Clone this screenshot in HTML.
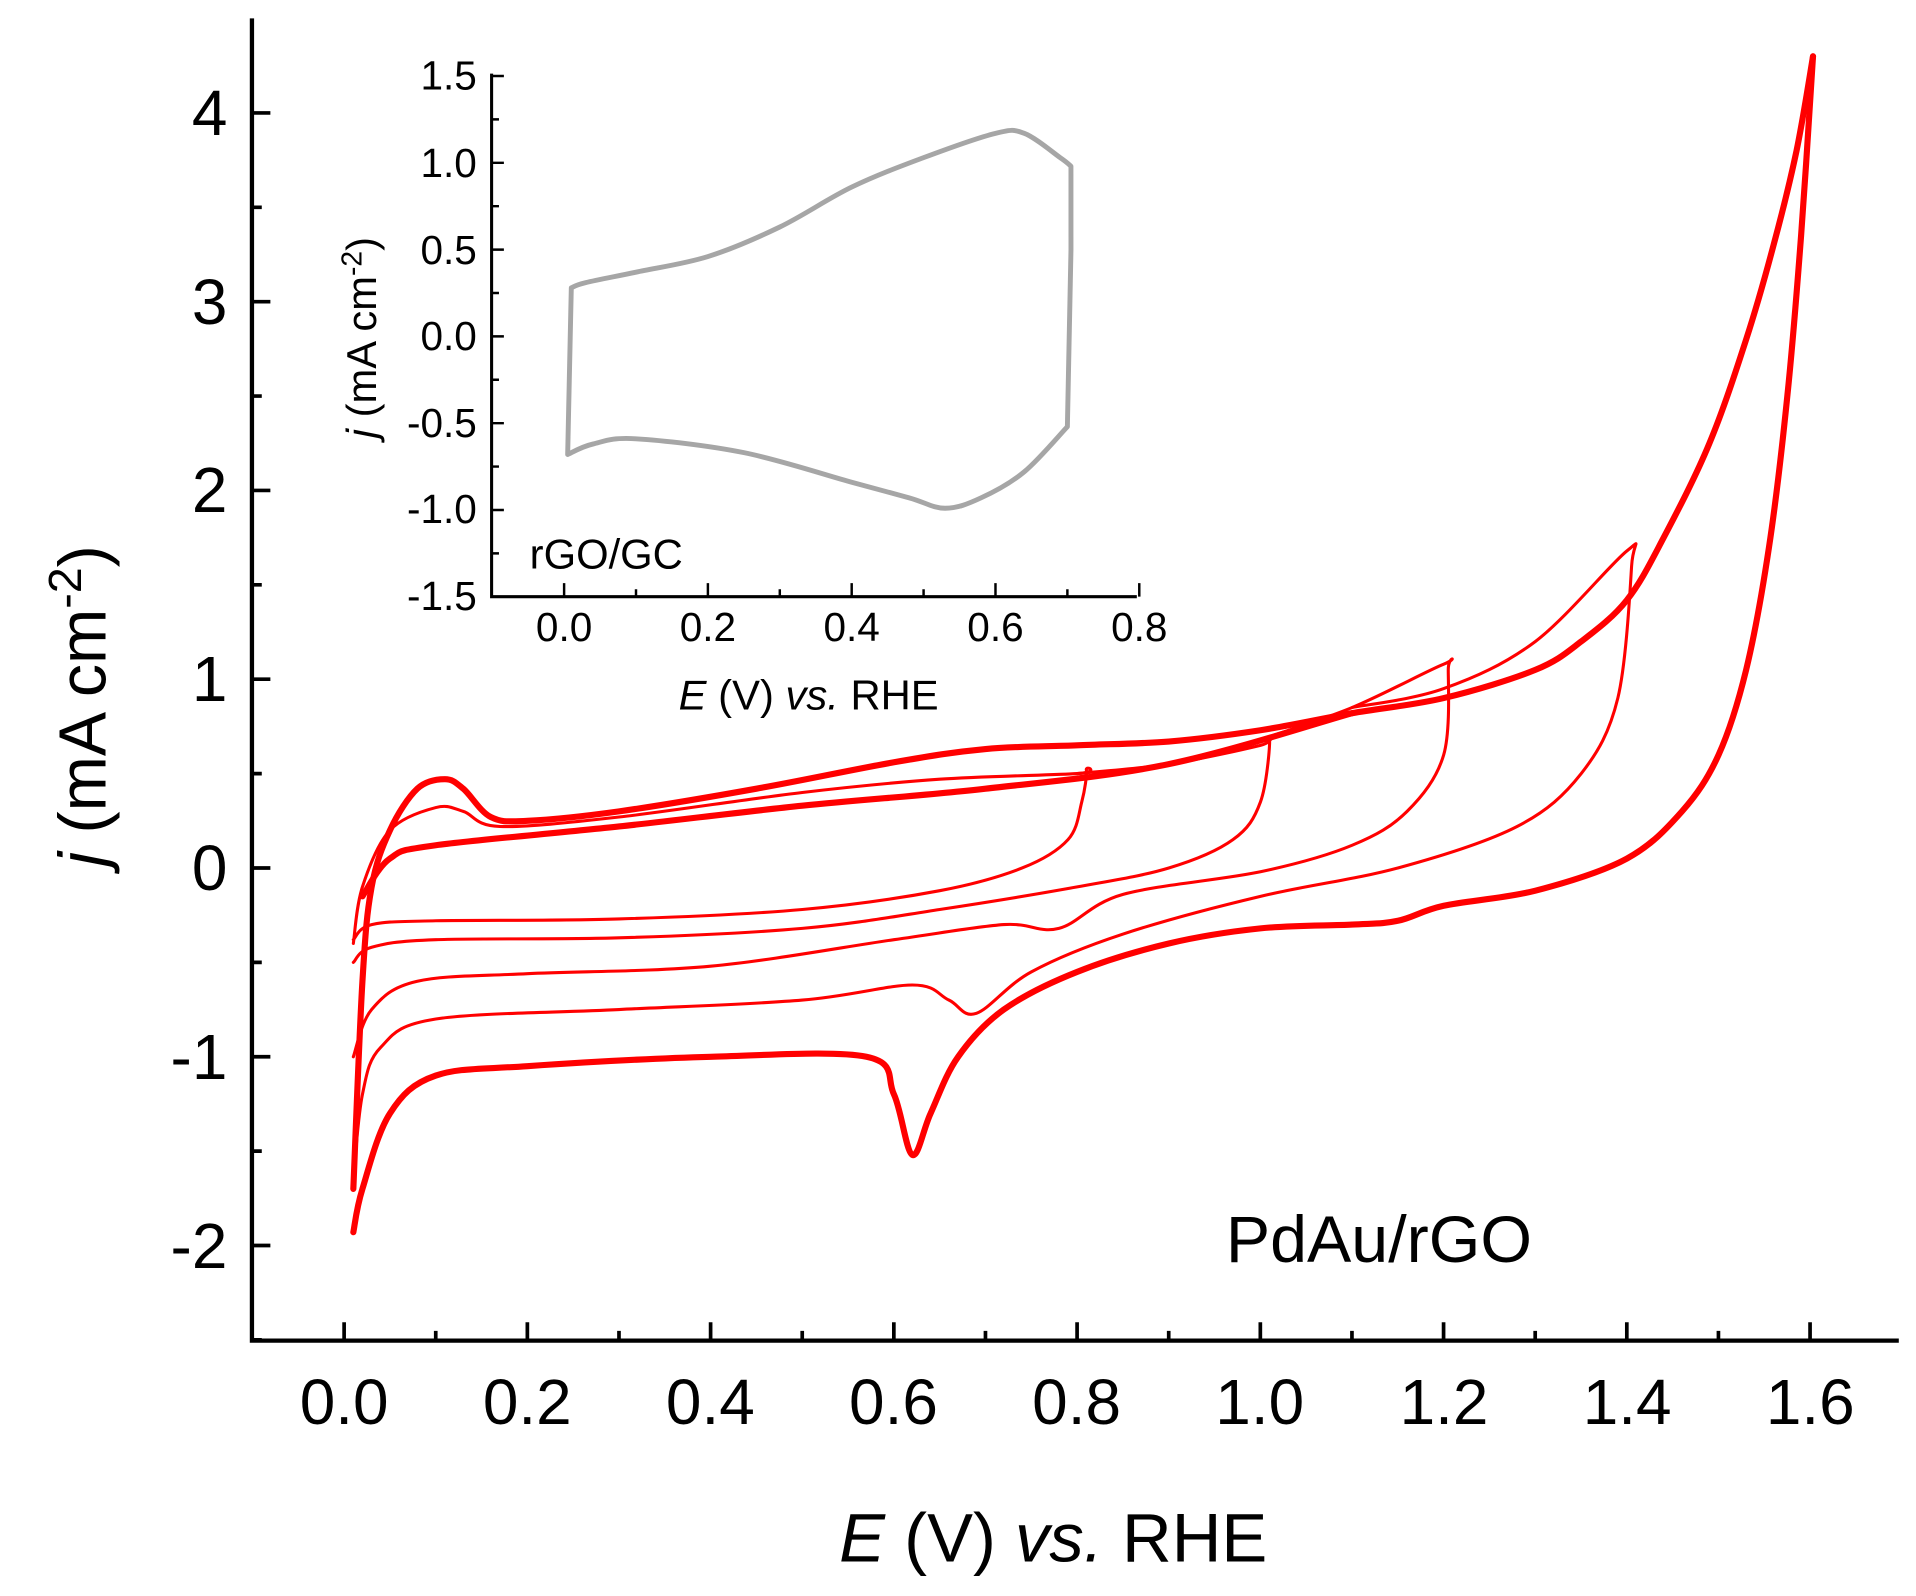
<!DOCTYPE html>
<html><head><meta charset="utf-8"><style>
html,body{margin:0;padding:0;background:#fff;}
svg{display:block;}
text{font-family:"Liberation Sans",Arial,sans-serif;fill:#000;}
</style></head><body>
<svg id="s" width="1916" height="1596" viewBox="0 0 1559 1300" preserveAspectRatio="none" xmlns="http://www.w3.org/2000/svg">
<rect width="1559" height="1300" fill="#fff"/>
<g id="axes" stroke="#000" stroke-width="3.5" fill="none">
<path d="M205,15 V1092 H1545"/>
<path d="M400,60 V486 H925" stroke-width="2.5"/>
</g>
<g id="ticks" stroke="#000" fill="none"></g>
<g id="curves" fill="none" stroke-linejoin="round" stroke-linecap="round"></g>
<g font-size="52" text-anchor="middle">
<text x="280" y="1160">0.0</text><text x="429" y="1160">0.2</text><text x="578" y="1160">0.4</text><text x="727" y="1160">0.6</text><text x="876" y="1160">0.8</text><text x="1025" y="1160">1.0</text><text x="1175" y="1160">1.2</text><text x="1324" y="1160">1.4</text><text x="1473" y="1160">1.6</text>
</g>
<g font-size="52" text-anchor="end">
<text x="185" y="110">4</text><text x="185" y="264">3</text><text x="185" y="417">2</text><text x="185" y="571">1</text><text x="185" y="725">0</text><text x="185" y="879">-1</text><text x="185" y="1033">-2</text>
</g>
<text x="857" y="1272" font-size="56" text-anchor="middle"><tspan font-style="italic">E</tspan> (V) <tspan font-style="italic">vs.</tspan> RHE</text>
<text transform="translate(86,575) rotate(-90)" font-size="54" text-anchor="middle"><tspan font-style="italic">j</tspan> (mA cm<tspan dy="-20" font-size="38">-2</tspan><tspan dy="20">)</tspan></text>
<text x="1122" y="1028" font-size="54" text-anchor="middle">PdAu/rGO</text>
<g font-size="33" text-anchor="end">
<text x="388" y="73">1.5</text><text x="388" y="144">1.0</text><text x="388" y="215">0.5</text><text x="388" y="285">0.0</text><text x="388" y="356">-0.5</text><text x="388" y="426">-1.0</text><text x="388" y="497">-1.5</text>
</g>
<g font-size="33" text-anchor="middle">
<text x="459" y="522">0.0</text><text x="576" y="522">0.2</text><text x="693" y="522">0.4</text><text x="810" y="522">0.6</text><text x="927" y="522">0.8</text>
</g>
<text x="658" y="578" font-size="34" text-anchor="middle"><tspan font-style="italic">E</tspan> (V) <tspan font-style="italic">vs.</tspan> RHE</text>
<text transform="translate(306,275) rotate(-90)" font-size="34" text-anchor="middle"><tspan font-style="italic">j</tspan> (mA cm<tspan dy="-12" font-size="23">-2</tspan><tspan dy="12">)</tspan></text>
<text x="431" y="463" font-size="34">rGO/GC</text>
</svg>
<script>
(function(){
var NS="http://www.w3.org/2000/svg";
function el(p,n,a){var e=document.createElementNS(NS,n);for(var k in a)e.setAttribute(k,a[k]);p.appendChild(e);return e;}
var T=document.getElementById('ticks');
var d="";
for(var i=0;i<=16;i++){var x=280+i*74.55;d+="M"+x+",1092v"+(i%2?-8:-15);}
for(var j=-2.5;j<=4.3;j+=0.5){var y=707-j*153.75;var maj=Math.abs(j-Math.round(j))<0.01;d+="M205,"+y+"h"+(maj?15:8);}
el(T,'path',{d:d,'stroke-width':3});
var d2="";
for(var i=0;i<=8;i++){var x=459+i*58.5;d2+="M"+x+",486v"+(i%2?-6:-11);}
for(var j=-1.5;j<=1.5001;j+=0.25){var y=274-j*141.4;var maj=Math.abs(j*2-Math.round(j*2))<0.01;d2+="M400,"+y+"h"+(maj?10:6);}
el(T,'path',{d:d2,'stroke-width':2});
function smooth(pts){var s="M"+pts[0][0].toFixed(1)+","+pts[0][1].toFixed(1);
for(var i=0;i<pts.length-1;i++){var p0=pts[i-1]||pts[i],p1=pts[i],p2=pts[i+1],p3=pts[i+2]||p2;
var c1=[p1[0]+(p2[0]-p0[0])/6,p1[1]+(p2[1]-p0[1])/6],c2=[p2[0]-(p3[0]-p1[0])/6,p2[1]-(p3[1]-p1[1])/6];
s+="C"+c1[0].toFixed(1)+","+c1[1].toFixed(1)+" "+c2[0].toFixed(1)+","+c2[1].toFixed(1)+" "+p2[0].toFixed(1)+","+p2[1].toFixed(1);}return s;}
function M(a){return a.map(function(p){return [280+p[0]*745.6,707-p[1]*153.75];});}
function I(a){return a.map(function(p){return [459+p[0]*585,274-p[1]*141.4];});}
var C=document.getElementById('curves');
function red(a,w){el(C,'path',{d:smooth(M(a)),stroke:'#ff0000','stroke-width':w});}
red([[0.01,-1.93],[0.02,-1.7],[0.05,-1.3],[0.1,-1.1],[0.2,-1.05],[0.4,-1.0],[0.57,-1.0],[0.6,-1.2],[0.62,-1.52],[0.64,-1.3],[0.67,-1.0],[0.72,-0.75],[0.8,-0.55],[0.9,-0.4],[1.0,-0.32],[1.1,-0.3],[1.15,-0.28],[1.2,-0.2],[1.3,-0.12],[1.4,0.05],[1.46,0.3],[1.5,0.6],[1.53,1.05],[1.555,1.7],[1.575,2.5],[1.59,3.35],[1.603,4.3]],5);
red([[1.603,4.3],[1.585,3.8],[1.56,3.3],[1.53,2.8],[1.49,2.25],[1.44,1.75],[1.40,1.42],[1.35,1.2],[1.3,1.05],[1.2,0.9],[1.1,0.82],[1.0,0.73],[0.9,0.67],[0.8,0.65],[0.7,0.63],[0.6,0.56],[0.45,0.42],[0.3,0.3],[0.2,0.25],[0.16,0.27],[0.13,0.42],[0.11,0.47],[0.08,0.42],[0.05,0.2],[0.03,-0.1],[0.02,-0.6],[0.01,-1.7]],5);
red([[0.02,-0.15],[0.05,0.05],[0.1,0.12],[0.3,0.22],[0.5,0.33],[0.7,0.42],[0.9,0.55],[1.1,0.82]],5);
red([[0.01,-0.4],[0.02,-0.1],[0.05,0.2],[0.1,0.32],[0.13,0.3],[0.17,0.22],[0.3,0.27],[0.5,0.4],[0.65,0.47],[0.8,0.5],[0.81,0.52],[0.805,0.35],[0.79,0.15],[0.74,0.0],[0.65,-0.12],[0.5,-0.22],[0.3,-0.27],[0.1,-0.28],[0.03,-0.3],[0.01,-0.38]],2.5);
red([[0.8,0.5],[0.9,0.55],[1.0,0.65],[1.01,0.68],[1.0,0.35],[0.97,0.15],[0.9,0.0],[0.8,-0.1],[0.65,-0.22],[0.5,-0.32],[0.3,-0.37],[0.1,-0.38],[0.03,-0.42],[0.01,-0.5]],2.5);
red([[1.0,0.68],[1.1,0.85],[1.2,1.08],[1.205,1.05],[1.2,0.6],[1.16,0.3],[1.1,0.12],[1.0,-0.02],[0.85,-0.14],[0.78,-0.32],[0.72,-0.3],[0.6,-0.38],[0.4,-0.52],[0.2,-0.56],[0.08,-0.6],[0.03,-0.75],[0.01,-1.0]],2.5);
red([[1.1,0.85],[1.2,0.95],[1.3,1.2],[1.4,1.68],[1.405,1.6],[1.39,0.9],[1.35,0.5],[1.28,0.22],[1.15,0.0],[1.0,-0.15],[0.85,-0.35],[0.75,-0.55],[0.69,-0.77],[0.66,-0.7],[0.62,-0.62],[0.5,-0.7],[0.3,-0.75],[0.1,-0.8],[0.04,-0.95],[0.02,-1.2],[0.01,-1.65]],2.5);
el(C,'path',{d:smooth(I([[0.01,0.28],[0.03,0.31],[0.1,0.37],[0.2,0.46],[0.3,0.63],[0.4,0.86],[0.5,1.03],[0.6,1.17],[0.64,1.17],[0.69,1.03],[0.705,0.98]]))+"L"+I([[0.705,0.5],[0.7,-0.52]]).map(function(p){return p.join(',');}).join(' L')+smooth(I([[0.7,-0.52],[0.64,-0.78],[0.58,-0.93],[0.53,-0.99],[0.48,-0.93],[0.4,-0.84],[0.25,-0.67],[0.1,-0.59],[0.04,-0.62],[0.005,-0.68]])).replace(/^M[^C]*/,"")+"L"+I([[0.01,0.28]])[0].join(','),stroke:'#a6a6a6','stroke-width':4});
})();
</script>
</body></html>
